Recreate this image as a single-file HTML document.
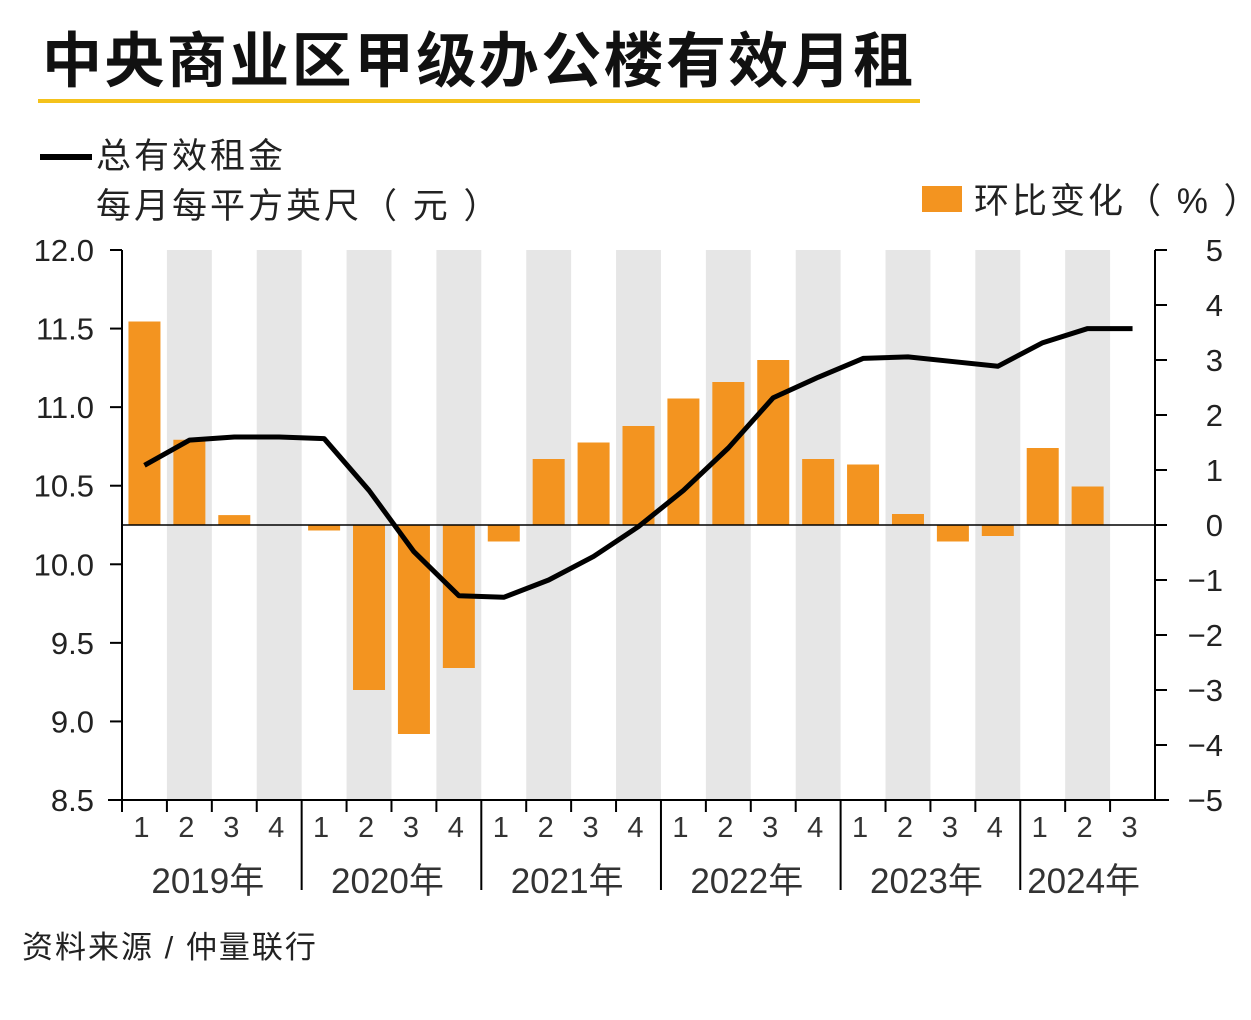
<!DOCTYPE html>
<html><head><meta charset="utf-8"><style>
body{margin:0;background:#fff;width:1251px;height:1015px;overflow:hidden;font-family:"Liberation Sans","Noto Sans CJK SC",sans-serif;}
svg text{font-family:"Liberation Sans","Noto Sans CJK SC",sans-serif;fill:#222;}
</style></head><body>
<svg width="1251" height="1015">
<text x="42" y="82" font-size="60" font-weight="bold" letter-spacing="2.4" style="fill:#111">中央商业区甲级办公楼有效月租</text>
<rect x="38" y="99" width="882" height="4" fill="#f4c21b"/>
<line x1="40" y1="157" x2="92" y2="157" stroke="#000" stroke-width="6"/>
<text x="96" y="168" font-size="35" letter-spacing="3">总有效租金</text>
<text x="96" y="218" font-size="35" letter-spacing="3">每月每平方英尺（ 元 ）</text>
<rect x="922" y="186" width="40" height="26" fill="#f39420"/>
<text x="974" y="213" font-size="35" letter-spacing="3">环比变化（ % ）</text>
<g id="bands"></g><g id="bars"></g>
<g id="axes"></g>
<polyline id="line" fill="none" stroke="#000" stroke-width="5" stroke-linejoin="round"/>
<text x="22" y="958" font-size="31" letter-spacing="2">资料来源 / 仲量联行</text>
</svg>
<script>
const quarters=["1","2","3","4","1","2","3","4","1","2","3","4","1","2","3","4","1","2","3","4","1","2","3"];
const years=["2019年","2020年","2021年","2022年","2023年","2024年"];
const changePct=[3.7,1.55,0.18,0,-0.1,-3.0,-3.8,-2.6,-0.3,1.2,1.5,1.8,2.3,2.6,3.0,1.2,1.1,0.2,-0.3,-0.2,1.4,0.7,0];
const rent=[10.63,10.79,10.81,10.81,10.80,10.47,10.08,9.80,9.79,9.90,10.05,10.24,10.47,10.74,11.06,11.19,11.31,11.32,11.29,11.26,11.41,11.50,11.50];
const leftTicks=[12.0,11.5,11.0,10.5,10.0,9.5,9.0,8.5];
const rightTicks=[5,4,3,2,1,0,-1,-2,-3,-4,-5];
const X0=122,X1=1155,Y0=250,Y1=800,N=23,W=(X1-X0)/N;
const yL=v=>Y0+(12-v)/3.5*(Y1-Y0);
const yR=v=>Y0+(5-v)/10*(Y1-Y0);
const xc=i=>X0+W*(i+0.5);
const NS="http://www.w3.org/2000/svg";
function mk(t,a,p){const e=document.createElementNS(NS,t);for(const k in a)e.setAttribute(k,a[k]);p.appendChild(e);return e;}
const bands=document.getElementById('bands'),bars=document.getElementById('bars'),axes=document.getElementById('axes');
for(let i=0;i<N;i++){if(i%2==1){const r=mk('rect',{x:X0+W*i,y:Y0,width:W,height:Y1-Y0,fill:'#e6e6e6'},bands);

}}
changePct.forEach((v,i)=>{const y=Math.min(yR(v),yR(0)),h=Math.abs(yR(v)-yR(0));
const r=mk('rect',{x:xc(i)-16,y:y,width:32,height:h,fill:'#f39420'},bars);

});
mk('line',{x1:X0,y1:yR(0),x2:X1,y2:yR(0),stroke:'#000','stroke-width':1.5},axes);
mk('line',{x1:X0,y1:Y0,x2:X0,y2:Y1,stroke:'#000','stroke-width':2},axes);
mk('line',{x1:X1,y1:Y0,x2:X1,y2:Y1,stroke:'#000','stroke-width':2},axes);
mk('line',{x1:X0-14,y1:Y1,x2:X1+14,y2:Y1,stroke:'#000','stroke-width':2},axes);
leftTicks.forEach(v=>{const y=yL(v);mk('line',{x1:X0-12,y1:y,x2:X0,y2:y,stroke:'#000','stroke-width':2},axes);
const t=mk('text',{x:X0-28,y:y+11,'font-size':31,'text-anchor':'end'},axes);t.textContent=v.toFixed(1);

});
rightTicks.forEach(v=>{const y=yR(v);mk('line',{x1:X1,y1:y,x2:X1+12,y2:y,stroke:'#000','stroke-width':2},axes);
const t=mk('text',{x:X1+68,y:y+11,'font-size':31,'text-anchor':'end'},axes);t.textContent=v<0?'−'+(-v):String(v);

});
quarters.forEach((q,i)=>{const x=X0+W*i;
if(i%4==0&&i>0){mk('line',{x1:x,y1:Y1,x2:x,y2:890,stroke:'#000','stroke-width':2},axes);}
else mk('line',{x1:x,y1:Y1,x2:x,y2:Y1+12,stroke:'#000','stroke-width':2},axes);
const t=mk('text',{x:xc(i)-3,y:837,'font-size':29,'text-anchor':'middle',style:'fill:#333'},axes);t.textContent=q;

});
years.forEach((yy,k)=>{const a=k*4,b=Math.min(k*4+4,N);const x=(X0+W*a+X0+W*b)/2-4;
const t=mk('text',{x:x,y:893,'font-size':35,'text-anchor':'middle',style:'fill:#333'},axes);t.textContent=yy;

});
document.getElementById('line').setAttribute('points',rent.map((v,i)=>xc(i)+','+yL(v)).join(' '));
</script>
</body></html>
